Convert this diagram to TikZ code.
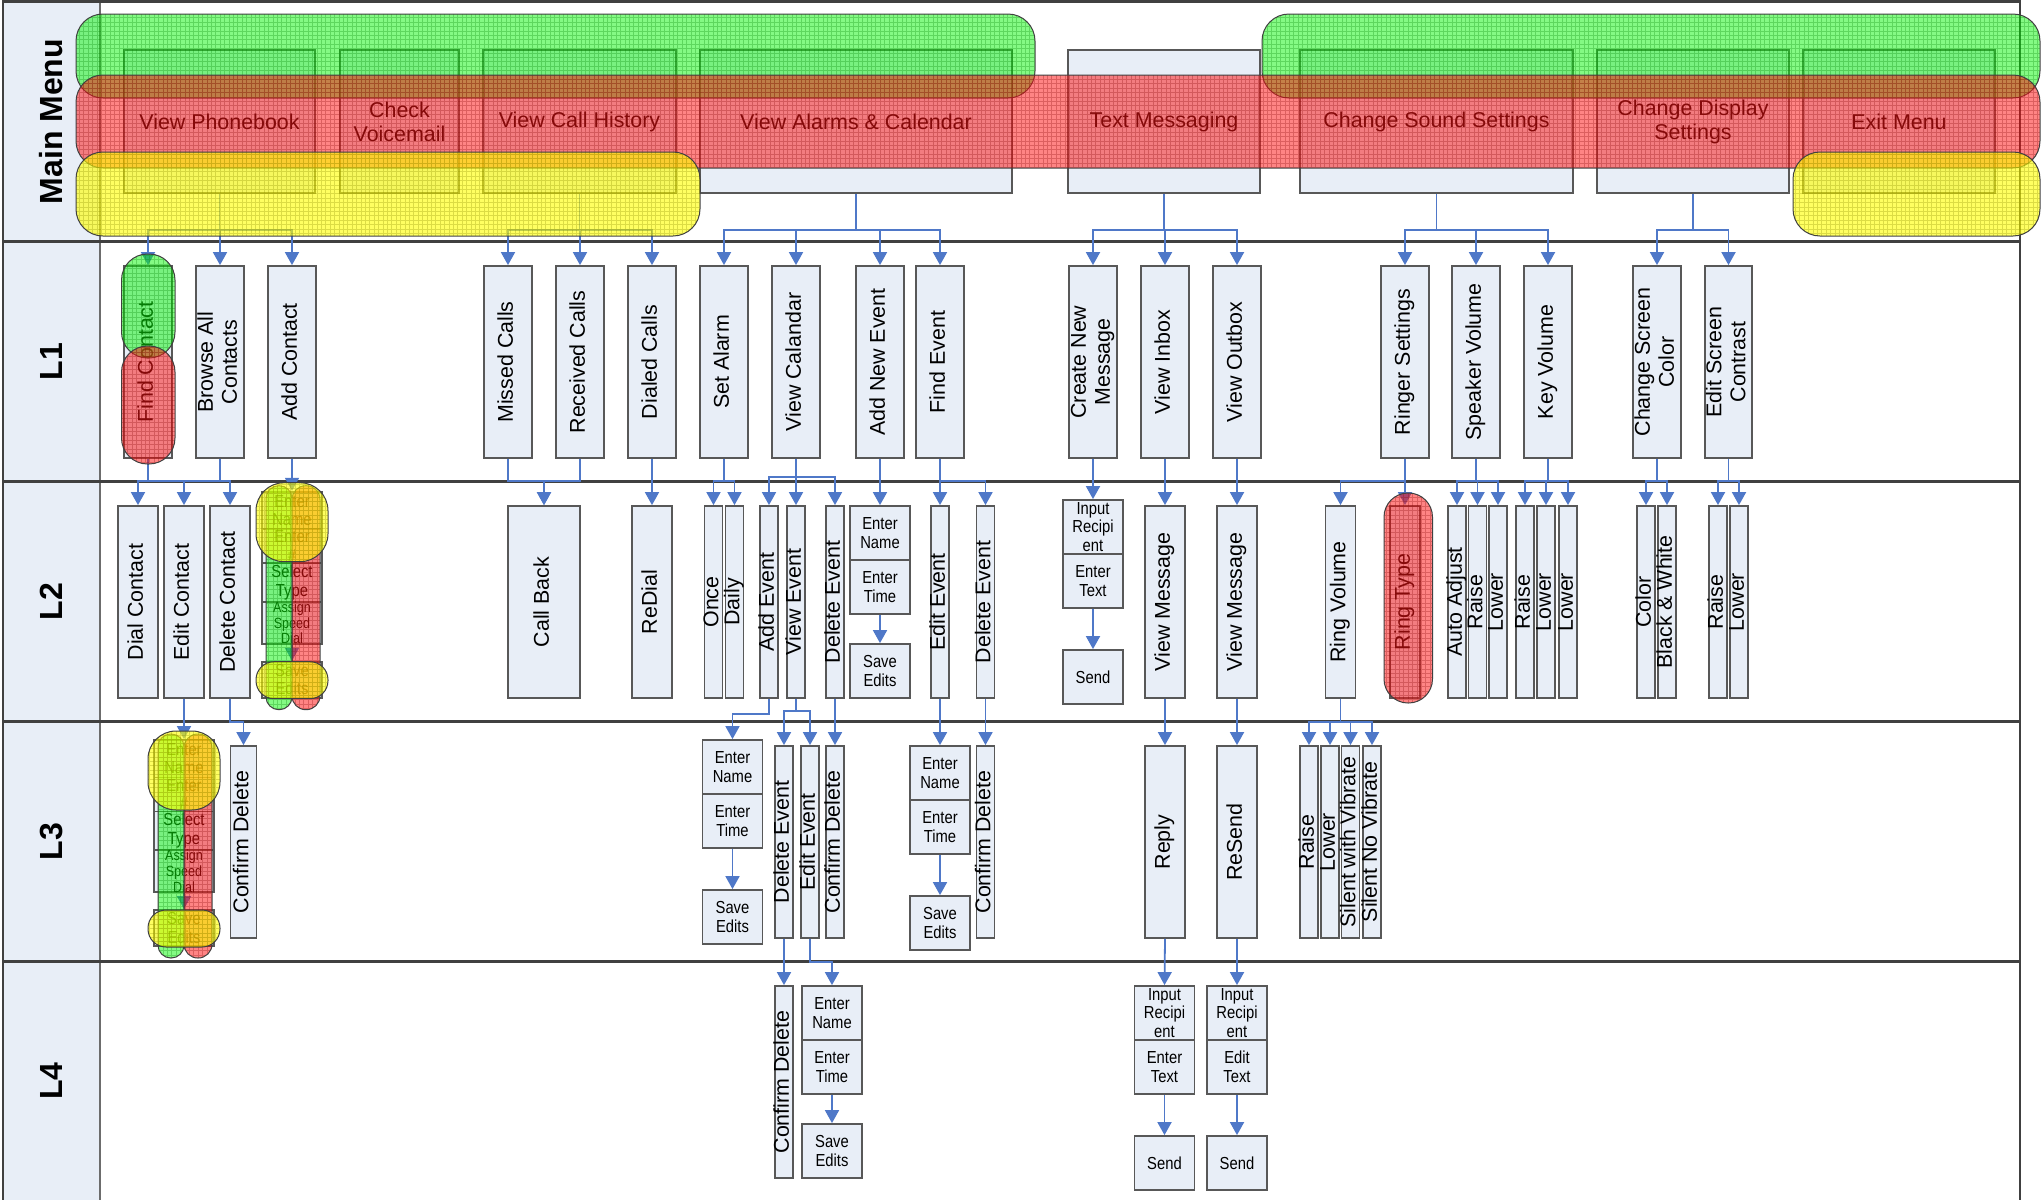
\documentclass[tikz,border=0pt]{standalone}
\usepackage{fontspec}
\setmainfont{Liberation Sans}
\newfontfamily\narrowfont[FakeStretch=0.85]{Liberation Sans}
\usetikzlibrary{arrows.meta}
\definecolor{boxfill}{RGB}{232,238,247}
\definecolor{boxline}{RGB}{88,88,88}
\definecolor{connblue}{RGB}{79,120,200}
\definecolor{laneline}{RGB}{64,64,64}
\definecolor{gblob}{RGB}{10,245,10}
\definecolor{rblob}{RGB}{255,20,20}
\definecolor{yblob}{RGB}{255,255,0}
\tikzset{
  stepbox/.style={draw=boxline,line width=0.9pt,fill=boxfill,inner sep=0pt},
  boxtext/.style={inner sep=0pt,align=center,font=\fontsize{10.7}{12}\selectfont},
  ntext/.style={inner sep=0pt,align=center,font=\narrowfont\fontsize{8.7}{9.3}\selectfont},
  stext/.style={inner sep=0pt,align=center,font=\narrowfont\fontsize{7.4}{7.8}\selectfont},
  lanelab/.style={inner sep=0pt,font=\bfseries\fontsize{16}{18}\selectfont},
  lane/.style={draw=laneline,line width=1.3pt},
  conn/.style={draw=connblue,line width=0.9pt,-{Triangle[width=7pt,length=6.5pt]}},
  connline/.style={draw=connblue,line width=0.9pt}
}
\newcommand\rtx[1]{\rotatebox{90}{\begin{tabular}{@{}c@{}}#1\end{tabular}}}
\newcommand\mkbox[7][boxtext]{%
  \pgfmathsetmacro\bxw{(#5-(#3))*0.5}%
  \pgfmathsetmacro\bxh{(#6-(#4))*0.5}%
  \pgfmathsetmacro\bxx{(#3+#5)/2}%
  \pgfmathsetmacro\bxy{(#4+#6)/2}%
  \node[stepbox,minimum width=\bxw pt,minimum height=\bxh pt] (#2) at (\bxx,\bxy) {};%
  \node[#1] (#2-t) at (#2.center) {#7};%
}
\newcommand\cstack[3]{%
  \pgfmathsetmacro\csl{#2-30}\pgfmathsetmacro\csr{#2+30}%
  \pgfmathsetmacro\cya{#3+37.5}\pgfmathsetmacro\cyb{#3+71.5}%
  \pgfmathsetmacro\cyc{#3+110}\pgfmathsetmacro\cyd{#3+152.3}%
  \pgfmathsetmacro\cye{#3+170}\pgfmathsetmacro\cyf{#3+206}%
  \mkbox[ntext]{#1a}{\csl}{#3}{\csr}{\cya}{Enter\\Name}%
  \mkbox[ntext]{#1b}{\csl}{\cya}{\csr}{\cyb}{Enter\\\#}%
  \mkbox[ntext]{#1c}{\csl}{\cyb}{\csr}{\cyc}{Select\\Type}%
  \mkbox[stext]{#1d}{\csl}{\cyc}{\csr}{\cyd}{Assign\\Speed\\Dial}%
  \mkbox[ntext]{#1e}{\csl}{\cye}{\csr}{\cyf}{Save\\Edits}%
  \draw[conn] (#1d.south) -- (#1e.north);%
}
\newcommand\blob[5][0.5]{%
  \begin{scope}%
  \clip[rounded corners=#3] #4 rectangle #5;%
  \fill[#2,fill opacity=#1] #4 rectangle #5;%
  \draw[#2!55!black,draw opacity=0.3,line width=0.3pt,step=2.2pt] #4 grid #5;%
  \end{scope}%
  \draw[black!75,line width=0.5pt,rounded corners=#3] #4 rectangle #5;%
}
\newcommand\cblobs[2]{%
  \blob[0.5]{gblob}{6.4pt}{({#1-26},{#2-6})}{({#1},{#2+218})}%
  \blob[0.52]{rblob}{6.9pt}{({#1},{#2-6})}{({#1+28},{#2+218})}%
  \blob[0.62]{yblob}{14pt}{({#1-36},{#2-9})}{({#1+36},{#2+70})}%
  \blob[0.62]{yblob}{9pt}{({#1-36},{#2+170})}{({#1+36},{#2+207})}%
}
\begin{document}
\begin{tikzpicture}[x=0.5pt,y=-0.5pt]
\useasboundingbox (0,0) rectangle (2042,1200);
% ---------- lanes ----------
\fill[boxfill] (3,1.5) rectangle (100,1200);
\draw[draw=gray!85!black,line width=0.9pt] (100,1.5) -- (100,1200);
\foreach \yy in {1.5,241.7,481.7,721.7,961.7} \draw[lane] (3,\yy) -- (2020,\yy);
\draw[lane] (3,0) -- (3,1200);
\draw[lane] (2020,0) -- (2020,1200);
\node[lanelab] (labM) at (51.5,121.6) {\rotatebox{90}{Main Menu}};
\node[lanelab] (lab1) at (51.5,361.7) {\rotatebox{90}{L1}};
\node[lanelab] (lab2) at (51.5,601.7) {\rotatebox{90}{L2}};
\node[lanelab] (lab3) at (51.5,841.7) {\rotatebox{90}{L3}};
\node[lanelab] (lab4) at (51.5,1081) {\rotatebox{90}{L4}};
% ---------- main menu ----------
\mkbox{mVP}{124}{50}{315}{193}{View Phonebook}
\mkbox{mCV}{340}{50}{459}{193}{Check\\Voicemail}
\mkbox{mCH}{483}{50}{676}{193}{View Call History}
\mkbox{mAC}{700}{50}{1012}{193}{View Alarms \& Calendar}
\mkbox{mTM}{1068}{50}{1260}{193}{Text Messaging}
\mkbox{mSS}{1300}{50}{1573}{193}{Change Sound Settings}
\mkbox{mDS}{1597}{50}{1789}{193}{Change Display\\Settings}
\mkbox{mEX}{1803}{50}{1995}{193}{Exit Menu}
% ---------- L1 ----------
\mkbox{FindC}{124}{266}{172}{458}{\rtx{Find Contact}}
\mkbox{Browse}{196}{266}{244}{458}{\rtx{Browse All\\Contacts}}
\mkbox{AddC}{268}{266}{316}{458}{\rtx{Add Contact}}
\mkbox{Missed}{484}{266}{532}{458}{\rtx{Missed Calls}}
\mkbox{Received}{556}{266}{604}{458}{\rtx{Received Calls}}
\mkbox{Dialed}{628}{266}{676}{458}{\rtx{Dialed Calls}}
\mkbox{SetAl}{700}{266}{748}{458}{\rtx{Set Alarm}}
\mkbox{ViewCal}{772}{266}{820}{458}{\rtx{View Calandar}}
\mkbox{AddEv}{856}{266}{904}{458}{\rtx{Add New Event}}
\mkbox{FindEv}{916}{266}{964}{458}{\rtx{Find Event}}
\mkbox{CreateMsg}{1069}{266}{1117}{458}{\rtx{Create New\\Message}}
\mkbox{Inbox}{1141}{266}{1189}{458}{\rtx{View Inbox}}
\mkbox{Outbox}{1213}{266}{1261}{458}{\rtx{View Outbox}}
\mkbox{Ringer}{1381}{266}{1429}{458}{\rtx{Ringer Settings}}
\mkbox{Speaker}{1452}{266}{1500}{458}{\rtx{Speaker Volume}}
\mkbox{KeyV}{1524}{266}{1572}{458}{\rtx{Key Volume}}
\mkbox{ScrCol}{1633}{266}{1681}{458}{\rtx{Change Screen\\Color}}
\mkbox{ScrCon}{1705}{266}{1752}{458}{\rtx{Edit Screen\\Contrast}}
% ---------- L2 ----------
\mkbox{Dial}{118}{506}{158}{698}{\rtx{Dial Contact}}
\mkbox{EditC}{164}{506}{204}{698}{\rtx{Edit Contact}}
\mkbox{DelC}{210}{506}{250}{698}{\rtx{Delete Contact}}
\cstack{sA}{292}{491.7}
\mkbox{CallBack}{508}{506}{580}{698}{\rtx{Call Back}}
\mkbox{ReDial}{632}{506}{672}{698}{\rtx{ReDial}}
\mkbox{Once}{704.5}{506}{722.5}{698}{\rtx{Once}}
\mkbox{Daily}{725.5}{506}{743.5}{698}{\rtx{Daily}}
\mkbox{AddEvt}{760}{506}{778}{698}{\rtx{Add Event}}
\mkbox{ViewEvt}{787}{506}{805}{698}{\rtx{View Event}}
\mkbox{DelEvt}{826}{506}{844}{698}{\rtx{Delete Event}}
\mkbox[ntext]{sBa}{850}{506}{910}{560}{Enter\\Name}
\mkbox[ntext]{sBb}{850}{560}{910}{614}{Enter\\Time}
\mkbox[ntext]{sBc}{850}{644}{910}{698}{Save\\Edits}
\mkbox{EditEvt}{931}{506}{949}{698}{\rtx{Edit Event}}
\mkbox{DelEvtB}{976.5}{506}{994.5}{698}{\rtx{Delete Event}}
\mkbox[ntext]{sCa}{1063}{500}{1123}{554}{Input\\Recipi\\ent}
\mkbox[ntext]{sCb}{1063}{554}{1123}{608}{Enter\\Text}
\mkbox[ntext]{sCc}{1063}{650}{1123}{704}{Send}
\mkbox{ViewMsgA}{1145}{506}{1185}{698}{\rtx{View Message}}
\mkbox{ViewMsgB}{1217}{506}{1257}{698}{\rtx{View Message}}
\mkbox{RingVol}{1325.5}{506}{1355.5}{698}{\rtx{Ring Volume}}
\mkbox{RingType}{1390}{506}{1420}{698}{\rtx{Ring Type}}
\mkbox{AutoAdj}{1448}{506}{1466}{698}{\rtx{Auto Adjust}}
\mkbox{SpR}{1468.5}{506}{1486.5}{698}{\rtx{Raise}}
\mkbox{SpL}{1489}{506}{1507}{698}{\rtx{Lower}}
\mkbox{KeR}{1516}{506}{1534}{698}{\rtx{Raise}}
\mkbox{KeLa}{1537}{506}{1555}{698}{\rtx{Lower}}
\mkbox{KeLb}{1559}{506}{1577}{698}{\rtx{Lower}}
\mkbox{Color}{1637}{506}{1655}{698}{\rtx{Color}}
\mkbox{BW}{1658}{506}{1676}{698}{\rtx{Black \& White}}
\mkbox{CoR}{1709}{506}{1727}{698}{\rtx{Raise}}
\mkbox{CoL}{1730}{506}{1748}{698}{\rtx{Lower}}
% ---------- L3 ----------
\cstack{sD}{184}{740}
\mkbox{ConfA}{230.5}{746}{256.5}{938}{\rtx{Confirm Delete}}
\mkbox[ntext]{sEa}{702.5}{740}{762.5}{794}{Enter\\Name}
\mkbox[ntext]{sEb}{702.5}{794}{762.5}{848}{Enter\\Time}
\mkbox[ntext]{sEc}{702.5}{890}{762.5}{944}{Save\\Edits}
\mkbox{DelEvtC}{775}{746}{793}{938}{\rtx{Delete Event}}
\mkbox{EditEvtC}{801}{746}{819}{938}{\rtx{Edit Event}}
\mkbox{ConfB}{826}{746}{844}{938}{\rtx{Confirm Delete}}
\mkbox[ntext]{sFa}{910}{746}{970}{800}{Enter\\Name}
\mkbox[ntext]{sFb}{910}{800}{970}{854}{Enter\\Time}
\mkbox[ntext]{sFc}{910}{896}{970}{950}{Save\\Edits}
\mkbox{ConfC}{976.5}{746}{994.5}{938}{\rtx{Confirm Delete}}
\mkbox{Reply}{1145}{746}{1185}{938}{\rtx{Reply}}
\mkbox{ReSend}{1217}{746}{1257}{938}{\rtx{ReSend}}
\mkbox{RvR}{1300}{746}{1318}{938}{\rtx{Raise}}
\mkbox{RvL}{1321}{746}{1339}{938}{\rtx{Lower}}
\mkbox{SwV}{1341.5}{746}{1359.5}{938}{\rtx{Silent with Vibrate}}
\mkbox{SnV}{1363}{746}{1381}{938}{\rtx{Silent No Vibrate}}
% ---------- L4 ----------
\mkbox{ConfD}{775}{986}{793}{1178}{\rtx{Confirm Delete}}
\mkbox[ntext]{sGa}{802}{986}{862}{1040}{Enter\\Name}
\mkbox[ntext]{sGb}{802}{1040}{862}{1094}{Enter\\Time}
\mkbox[ntext]{sGc}{802}{1124}{862}{1178}{Save\\Edits}
\mkbox[ntext]{sHa}{1134.5}{986}{1194.5}{1040}{Input\\Recipi\\ent}
\mkbox[ntext]{sHb}{1134.5}{1040}{1194.5}{1094}{Enter\\Text}
\mkbox[ntext]{sHc}{1134.5}{1136}{1194.5}{1190}{Send}
\mkbox[ntext]{sIa}{1207}{986}{1267}{1040}{Input\\Recipi\\ent}
\mkbox[ntext]{sIb}{1207}{1040}{1267}{1094}{Edit\\Text}
\mkbox[ntext]{sIc}{1207}{1136}{1267}{1190}{Send}
% ---------- connectors: main -> L1 ----------
\foreach \c in {FindC,Browse,AddC} \draw[conn] (mVP.south) -- ++(0,36) -| (\c.north);
\foreach \c in {Missed,Received,Dialed} \draw[conn] (mCH.south) -- ++(0,36) -| (\c.north);
\foreach \c in {SetAl,ViewCal,AddEv,FindEv} \draw[conn] (mAC.south) -- ++(0,36) -| (\c.north);
\foreach \c in {CreateMsg,Inbox,Outbox} \draw[conn] (mTM.south) -- ++(0,36) -| (\c.north);
\foreach \c in {Ringer,Speaker,KeyV} \draw[conn] (mSS.south) -- ++(0,36) -| (\c.north);
\foreach \c in {ScrCol,ScrCon} \draw[conn] (mDS.south) -- ++(0,36) -| (\c.north);
% ---------- L1 -> L2 ----------
\foreach \c in {Dial,EditC,DelC} \draw[conn] (FindC.south) -- ++(0,22) -| (\c.north);
\draw[connline] (Browse.south) -- ++(0,22);
\draw[conn] (AddC.south) -- (sAa.north);
\draw[conn] (Missed.south) -- ++(0,22) -| (CallBack.north);
\draw[conn] (Received.south) -- ++(0,22) -| (CallBack.north);
\draw[conn] (Dialed.south) -- (ReDial.north);
\foreach \c in {Once,Daily} \draw[conn] (SetAl.south) -- ++(0,22) -| (\c.north);
\foreach \c in {AddEvt,ViewEvt,DelEvt} \draw[conn] (ViewCal.south) -- ++(0,18) -| (\c.north);
\draw[conn] (AddEv.south) -- (sBa.north);
\foreach \c in {EditEvt,DelEvtB} \draw[conn] (FindEv.south) -- ++(0,22) -| (\c.north);
\draw[conn] (CreateMsg.south) -- (sCa.north);
\draw[conn] (Inbox.south) -- (ViewMsgA.north);
\draw[conn] (Outbox.south) -- (ViewMsgB.north);
\foreach \c in {RingVol,RingType} \draw[conn] (Ringer.south) -- ++(0,22) -| (\c.north);
\foreach \c in {AutoAdj,SpR,SpL} \draw[conn] (Speaker.south) -- ++(0,22) -| (\c.north);
\foreach \c in {KeR,KeLa,KeLb} \draw[conn] (KeyV.south) -- ++(0,22) -| (\c.north);
\foreach \c in {Color,BW} \draw[conn] (ScrCol.south) -- ++(0,22) -| (\c.north);
\foreach \c in {CoR,CoL} \draw[conn] (ScrCon.south) -- ++(0,22) -| (\c.north);
% ---------- L2 -> L3 ----------
\draw[conn] (EditC.south) -- (sDa.north);
\draw[conn] (DelC.south) -- ++(0,23) -| (ConfA.north);
\draw[conn] (AddEvt.south) -- ++(0,15) -| (sEa.north);
\foreach \c in {DelEvtC,EditEvtC} \draw[conn] (ViewEvt.south) -- ++(0,12) -| (\c.north);
\draw[conn] (DelEvt.south) -- (ConfB.north);
\draw[conn] (EditEvt.south) -- (sFa.north);
\draw[conn] (DelEvtB.south) -- (ConfC.north);
\draw[conn] (ViewMsgA.south) -- (Reply.north);
\draw[conn] (ViewMsgB.south) -- (ReSend.north);
\foreach \c in {RvR,RvL,SwV,SnV} \draw[conn] (RingVol.south) -- ++(0,23) -| (\c.north);
% ---------- L3 -> L4 ----------
\draw[conn] (DelEvtC.south) -- (ConfD.north);
\draw[conn] (EditEvtC.south) -- ++(0,23) -| (sGa.north);
\draw[conn] (Reply.south) -- (sHa.north);
\draw[conn] (ReSend.south) -- (sIa.north);
% ---------- stack arrows ----------
\foreach \s in {sB,sC,sE,sF,sG,sH,sI} \draw[conn] (\s b.south) -- (\s c.north);
% ---------- overlays ----------
\blob[0.5]{gblob}{13.5pt}{(76,14)}{(1035,98)}
\blob[0.5]{gblob}{13.5pt}{(1262,14)}{(2040,98)}
\blob[0.52]{rblob}{13.5pt}{(76,75)}{(2040,168)}
\blob[0.62]{yblob}{13.5pt}{(76,152)}{(700,236)}
\blob[0.62]{yblob}{13.5pt}{(1793,152)}{(2040,236)}
\blob[0.5]{gblob}{13pt}{(121.5,254)}{(175,358)}
\blob[0.52]{rblob}{13pt}{(121.5,346)}{(175,464)}
\blob[0.52]{rblob}{12pt}{(1384,493)}{(1432.5,703)}
\cblobs{292}{491.7}
\cblobs{184}{740}
\end{tikzpicture}
\end{document}
